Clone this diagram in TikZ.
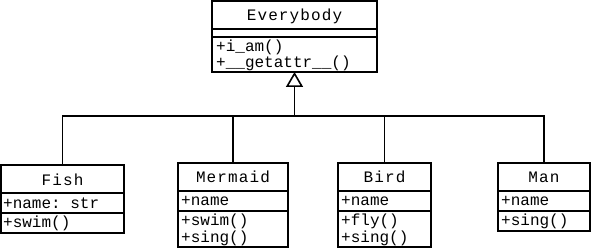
\documentclass[tikz,border=0pt]{standalone}
\usepackage{fontspec}
\setmonofont{Liberation Mono}
\newfontfamily\titlefont[LetterSpace=7]{Liberation Mono}
\usetikzlibrary{arrows.meta}

\tikzset{
  classbox/.style={draw, line width=1.6pt, inner sep=0pt, outer sep=0pt, anchor=north west},
  sepline/.style={line width=1.6pt},
  member/.style={anchor=west, inner sep=0pt, font=\ttfamily\fontsize{16}{17}\selectfont},
  classname/.style={inner sep=0pt, font=\titlefont\fontsize{16}{17}\selectfont},
  link/.style={line width=1.6pt},
  inherit/.style={line width=1.6pt, -{Triangle[open, length=15pt, width=17pt, line width=1.6pt]}}
}

\begin{document}
\begin{tikzpicture}[x=1pt, y=-1pt]
    \useasboundingbox (0,0) rectangle (592,248);

    % Everybody
    \node[classbox, minimum width=165pt, minimum height=71pt] (every) at (212,1) {};
    \draw[sepline] (every.west |- 0,29) -- (every.east |- 0,29);
    \draw[sepline] (every.west |- 0,37) -- (every.east |- 0,37);
    \node[classname] (everyT) at (294.5,16) {Everybody};
    \node[member] (everyA) at (216,47) {+i\_am()};
    \node[member] (everyB) at (216,63) {+\_\_getattr\_\_()};

    % Fish
    \node[classbox, minimum width=123pt, minimum height=68pt] (fish) at (1,165) {};
    \draw[sepline] (fish.west |- 0,193) -- (fish.east |- 0,193);
    \draw[sepline] (fish.west |- 0,213) -- (fish.east |- 0,213);
    \node[classname] (fishT) at (fish.north |- 0,180) {Fish};
    \node[member] (fishA) at (3,203) {+name: str};
    \node[member] (fishB) at (3,223) {+swim()};

    % Mermaid
    \node[classbox, minimum width=110pt, minimum height=84pt] (mermaid) at (178,163) {};
    \draw[sepline] (mermaid.west |- 0,191) -- (mermaid.east |- 0,191);
    \draw[sepline] (mermaid.west |- 0,211) -- (mermaid.east |- 0,211);
    \node[classname] (mermaidT) at (mermaid.north |- 0,177) {Mermaid};
    \node[member] (mermaidA) at (181,201) {+name};
    \node[member] (mermaidB) at (181,221) {+swim()};
    \node[member] (mermaidC) at (181,238) {+sing()};

    % Bird
    \node[classbox, minimum width=93pt, minimum height=84pt] (bird) at (338,163) {};
    \draw[sepline] (bird.west |- 0,191) -- (bird.east |- 0,191);
    \draw[sepline] (bird.west |- 0,211) -- (bird.east |- 0,211);
    \node[classname] (birdT) at (bird.north |- 0,177) {Bird};
    \node[member] (birdA) at (341,201) {+name};
    \node[member] (birdB) at (341,221) {+fly()};
    \node[member] (birdC) at (341,238) {+sing()};

    % Man
    \node[classbox, minimum width=92pt, minimum height=68pt] (man) at (498,163) {};
    \draw[sepline] (man.west |- 0,191) -- (man.east |- 0,191);
    \draw[sepline] (man.west |- 0,211) -- (man.east |- 0,211);
    \node[classname] (manT) at (man.north |- 0,177) {Man};
    \node[member] (manA) at (501,201) {+name};
    \node[member] (manB) at (501,221) {+sing()};

    % Generalization
    \coordinate (hub) at (every.south |- 0,116);
    \draw[inherit] (hub) -- (every.south);
    \draw[link] (fish.north) |- (hub) -| (man.north);
    \draw[link] (mermaid.north) -- (mermaid.north |- hub);
    \draw[link] (bird.north) -- (bird.north |- hub);

\end{tikzpicture}
\end{document}
